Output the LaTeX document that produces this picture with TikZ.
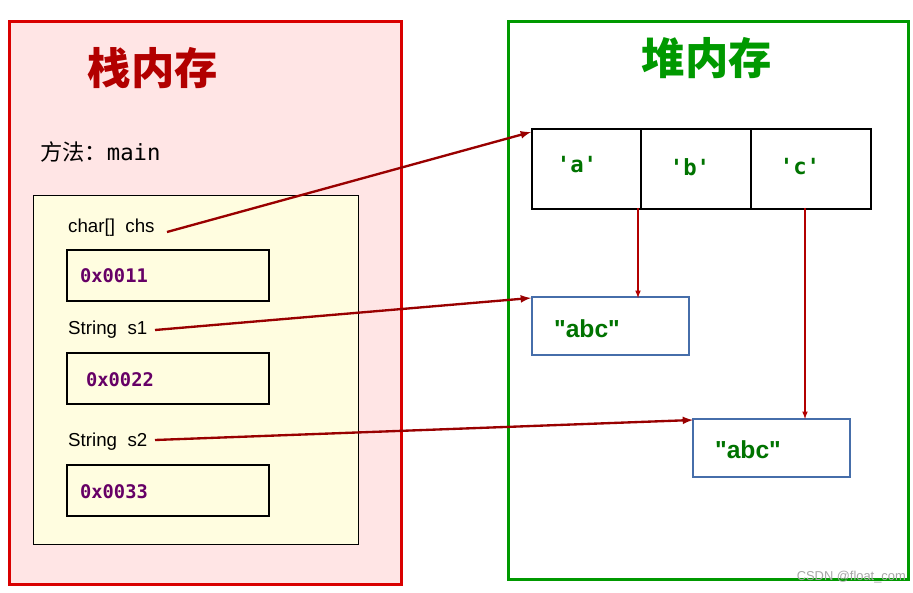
\documentclass[tikz,border=0pt]{standalone}
\usepackage{fontspec}
\setmainfont{Liberation Sans}
\newfontfamily\cjk{Noto Sans CJK SC}
\newfontfamily\plainsans[Ligatures=TeXOff]{Liberation Sans}
\setmonofont{DejaVu Sans Mono}
\definecolor{steel}{RGB}{70,110,170}
\begin{document}
\begin{tikzpicture}[x=0.03cm,y=-0.03cm,
  addr/.style={draw=black,line width=1.5pt,minimum width=6.06cm,minimum height=1.53cm,anchor=north west},
  addrtxt/.style={font=\ttfamily\bfseries\fontsize{16}{16}\selectfont,text=violet!80!black,anchor=west},
  cell/.style={draw=black,line width=1.5pt,anchor=north west,minimum height=2.4cm},
  celltxt/.style={font=\ttfamily\bfseries\fontsize{19}{19}\selectfont,text=green!45!black},
  strbox/.style={draw=steel,line width=2pt,fill=white,anchor=north west,minimum width=4.71cm,minimum height=1.74cm},
  strtxt/.style={font=\plainsans\bfseries\fontsize{21}{21}\selectfont,text=green!45!black,anchor=west},
  lbl/.style={font=\fontsize{16}{16}\selectfont,anchor=west},
  arr/.style={-latex,draw=red!60!black,line width=2pt},
  arrthin/.style={-latex,draw=red!70!black,line width=1.2pt}]
\useasboundingbox (0,0) rectangle (913,593);
\fill[white] (0,0) rectangle (913,593);
% left stack
\node[draw=red!85!black,line width=2.6pt,fill=red!10,anchor=north west,minimum width=11.76cm,minimum height=16.89cm] (stack) at (8,20) {};
\node[font=\cjk\bfseries\fontsize{37}{37}\selectfont,text=red!70!black] (t1) at (153,68) {栈内存};
\node[lbl,font=\fontsize{19}{19}\selectfont] (meth) at (36,152) {{\cjk 方法：}\ttfamily main};
\node[draw=black,line width=1.2pt,fill=yellow!12,anchor=north west,minimum width=9.75cm,minimum height=10.47cm] (frame) at (33,195) {};
\node[lbl] (l1) at (64,228) {char[]\ \ chs};
\node[addr] (b1) at (66,249) {};
\node[addrtxt] (a1) at (76,276) {0x0011};
\node[lbl] (l2) at (64,330) {String\ \ s1};
\node[addr] (b2) at (66,352) {};
\node[addrtxt] (a2) at (82,380) {0x0022};
\node[lbl] (l3) at (64,442) {String\ \ s2};
\node[addr] (b3) at (66,464) {};
\node[addrtxt] (a3) at (76,492) {0x0033};
% right heap
\node[draw=green!60!black,line width=2.6pt,fill=white,anchor=north west,minimum width=12cm,minimum height=16.74cm] (heap) at (507,20) {};
\node[font=\cjk\bfseries\fontsize{37}{37}\selectfont,text=green!60!black] (t2) at (707,58) {堆内存};
\node[cell,minimum width=3.27cm] (ca) at (531,128) {};
\node[cell,minimum width=3.3cm] (cb) at (640,128) {};
\node[cell,minimum width=3.6cm] (cc) at (750,128) {};
\node[celltxt] at (577,165) {'a'};
\node[celltxt] at (690,167) {'b'};
\node[celltxt] at (800,167) {'c'};
\node[strbox] (s1) at (531,296) {};
\node[strtxt] at (550,329) {"abc"};
\node[strbox] (s2) at (692,418) {};
\node[strtxt] at (711,450) {"abc"};
% arrows
\coordinate (p1) at (167,232); \coordinate (q1) at (531,132);
\coordinate (p2) at (155,330); \coordinate (q2) at (531,298);
\coordinate (p3) at (155,440); \coordinate (q3) at (693,420);
\draw[arr] (p1) -- (q1);
\draw[arr] (p2) -- (q2);
\draw[arr] (p3) -- (q3);
\coordinate (d1) at (638,208); \coordinate (e1) at (638,298);
\coordinate (d2) at (805,208); \coordinate (e2) at (805,419);
\draw[arrthin] (d1) -- (e1);
\draw[arrthin] (d2) -- (e2);
\node[font=\fontsize{11}{11}\selectfont,text=gray!70,anchor=east] (wm) at (910,577) {CSDN @float\_com};
\end{tikzpicture}
\end{document}
